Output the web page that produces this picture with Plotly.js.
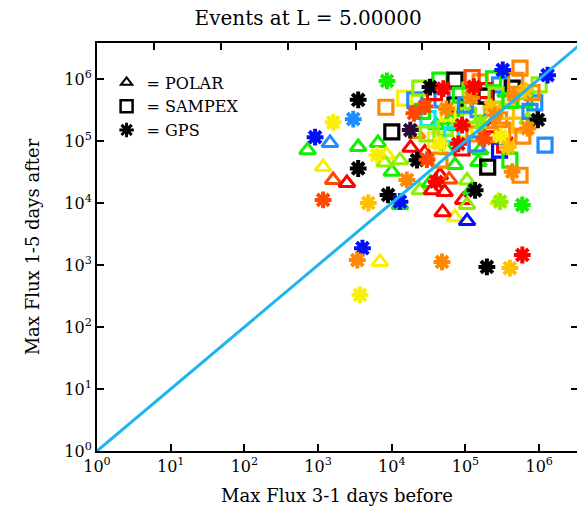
<!DOCTYPE html>
<html>
<head>
<meta charset="utf-8">
<script src="https://cdn.plot.ly/plotly-3.0.1.min.js"></script>
<style>html,body{margin:0;padding:0;background:#fff;}#chart{width:577px;height:515px;}</style>
</head>
<body>
<div id="chart"></div>
<script>
// ---- data ----
const decades = [1, 10, 100, 1e3, 1e4, 1e5, 1e6];
const decadeLabels = ['10<sup>0</sup>','10<sup>1</sup>','10<sup>2</sup>','10<sup>3</sup>','10<sup>4</sup>','10<sup>5</sup>','10<sup>6</sup>'];

const polarX = [7.2e2, 1.45e3, 1.17e3, 1.6e3, 2.46e3, 3.5e3, 6.5e3, 6.9e3, 1.29e4, 2.4e4, 7.2e4, 1.05e5, 9.3e4, 5.2e4, 1.05e5, 4.5e4, 7.2e4, 2.8e5, 1.58e5, 1.29e4, 1.0e4, 3.3e4, 1.8e4, 5.6e4, 4.9e4, 1.05e5, 3.5e4, 5.5e5, 6.2e4, 2.2e4, 8.5e3,
                4.0e4, 9.0e4, 2.2e5, 3.5e5, 7.0e5, 1.5e5, 2.8e4, 6.0e4, 1.2e5, 8.0e3];
const polarY = [7.1e4, 9.3e4, 3.8e4, 2.35e4, 2.1e4, 8.0e4, 9.3e4, 1.12e3, 9.3e3, 1.6e4, 5.9e3, 5.1e3, 1.12e4, 1.5e4, 2.3e4, 2.8e4, 4.1e4, 1.1e4, 7.1e4, 4.9e4, 3.2e4, 2.1e4, 7.8e4, 7.1e4, 7.1e3, 9.3e3, 1.6e4, 5.5e5, 2.2e5, 1.3e5, 6.0e4,
                1.8e5, 3.2e5, 1.6e5, 6.0e5, 2.2e5, 4.6e4, 6.5e4, 2.4e4, 1.6e4, 4.5e4];
const polarC = ['green','dodger','yellow','orangered','red','green','green','yellow','green','lime','yellow','blue','red','red','lime','red','green','yellow','green','lime','green','green','red','green','red','lime','red','lime','green','orange','yellow',
                'green','lime','red','green','lime','green','red','orangered','green','lime'];

const sampexX = [8.3e3, 1.5e4, 2.05e4, 3.1e4, 1.0e4, 4.8e4, 4.5e4, 7.2e4, 7.2e4, 2.0e5, 3.4e5, 2.9e5, 5.5e5, 8.7e5, 2.9e5, 4.3e5, 1.15e5, 1.58e5, 2.9e5, 1.48e5, 9.8e4, 2.1e5, 5.5e5, 1.0e6, 6.4e5, 3.9e4, 5.3e4, 9.0e4, 1.2e6, 1.23e5, 2.4e4, 4.0e5, 4.5e4, 5.5e5, 1.9e5, 7.2e4,
                 2.6e4, 3.8e4, 5.8e4, 8.5e4, 1.1e5, 1.3e5, 1.8e5, 2.4e5, 3.6e5, 4.8e5, 7.5e5, 8.0e5, 6.5e4, 1.0e5, 3.2e5, 2.6e5, 4.0e5, 6.0e5, 1.4e5, 3.0e4];
const sampexY = [3.5e5, 4.9e5, 4.6e5, 2.3e5, 1.4e5, 4.6e5, 9.6e5, 9.6e5, 3.8e5, 3.8e4, 8.6e4, 7.1e4, 2.8e4, 4.1e5, 8.0e5, 7.1e5, 6.6e5, 9.0e5, 2.2e5, 3.2e5, 1.5e5, 1.26e5, 1.8e5, 8.0e5, 4.6e5, 1.04e5, 1.6e5, 7.7e4, 8.6e4, 1.05e6, 7.1e5, 4.9e4, 4.9e4, 1.5e6, 5.3e5, 2.0e5,
                 3.0e5, 6.0e5, 2.8e5, 5.5e5, 2.6e5, 1.3e5, 6.5e5, 1.0e6, 3.0e5, 9.5e5, 3.0e5, 6.0e5, 1.25e5, 3.8e5, 1.5e5, 5.5e5, 4.5e5, 1.2e5, 9.0e4, 1.3e5];
const sampexC = ['orange','yellow','dodger','cyan','black','dodger','green','black','black','black','red','blue','orange','dodger','dodger','black','lime','orange','orange','dodger','yellow','orange','gold','lime','green','yellow','lime','red','dodger','orangered','lime','green','orange','orange','black','green',
                 'green','red','yellow','green','lime','orange','red','green','gold','orange','dodger','orange','cyan','dodger','orange','lime','green','orange','dodger','lime'];

const gpsX = [9.1e2, 1.6e3, 3.0e3, 3.5e3, 8.6e3, 3.3e4, 1.78e4, 3.5e3, 1.17e3, 4.8e3, 8.9e3, 1.29e4, 4.0e3, 3.4e3, 3.7e3, 4.8e4, 1.95e5, 4.0e5, 5.9e5, 2.95e5, 5.9e5, 1.35e5, 9.6e5, 3.2e5, 1.3e6, 4.3e5, 2.2e4, 6.3e3, 1.6e4, 5.0e4, 1.2e5, 2.2e5, 4.5e5, 8.0e4, 1.6e5, 3.0e4, 4.0e4, 3.0e5, 7.0e5, 2.0e4,
              5.5e4, 1.3e5, 2.5e5, 6.5e5, 9.0e4, 3.8e5, 1.8e5, 4.5e4, 2.8e4];
const gpsY = [1.15e5, 2.0e5, 2.25e5, 4.6e5, 9.3e5, 7.4e5, 1.5e5, 3.6e4, 1.12e4, 1.0e4, 1.35e4, 1.05e4, 1.87e3, 1.2e3, 3.3e2, 1.12e3, 9.3e2, 8.9e2, 1.45e3, 1.05e4, 9.3e3, 1.6e4, 2.2e5, 1.4e6, 1.15e6, 3.2e4, 4.9e4, 5.9e4, 2.35e4, 7.0e5, 5.0e5, 3.5e5, 5.5e5, 9.0e4, 2.0e5, 5.0e4, 2.2e4, 1.2e5, 1.6e5, 2.8e5,
              3.3e5, 7.5e5, 2.6e5, 6.5e5, 1.8e5, 8.0e4, 1.1e5, 9.0e4, 3.6e5];
const gpsC = ['blue','yellow','dodger','black','green','black','darkpurple','black','orangered','gold','black','blue','blue','orange','yellow','orange','black','gold','red','lime','green','black','black','blue','blue','orange','black','yellow','orange','red','orange','gold','orange','red','lime','orangered','red','yellow','orange','orangered',
              'orange','red','orange','gold','red','gold','orangered','yellow','orangered'];

const lineX = [1, 1e7];
const lineY = [1, 1e7];

const topTickPos = [0.119, 0.258, 0.398, 0.540, 0.677, 0.817];

// ---- styles ----
const palette = {
  black:'#000000', darkpurple:'#2a0a3a', blue:'#0010ff', dodger:'#1e8cff', cyan:'#00e8ff',
  green:'#10f000', lime:'#8ef000', yellow:'#f8f000', gold:'#ffc000', orange:'#ff8800',
  orangered:'#ff4800', red:'#ff0000'
};
const col = arr => arr.map(c => palette[c]);
const serif = 'DejaVu Serif, Liberation Serif, serif';

const traces = [
  {x: polarX, y: polarY, type:'scatter', mode:'markers', showlegend:false, hoverinfo:'skip',
   marker:{symbol:'triangle-up-open', size:14, color:col(polarC), line:{width:3}}},
  {x: sampexX, y: sampexY, type:'scatter', mode:'markers', showlegend:false, hoverinfo:'skip',
   marker:{symbol:'square-open', size:14, color:col(sampexC), line:{width:3.2}}},
  {x: gpsX, y: gpsY, type:'scatter', mode:'markers', showlegend:false, hoverinfo:'skip',
   marker:{symbol:'asterisk-open', size:14, color:col(gpsC), line:{width:4}}},
  {x: lineX, y: lineY, type:'scatter', mode:'lines', showlegend:false, hoverinfo:'skip',
   line:{color:'#1eb4f0', width:3}},
  // legend entries
  {x:[null], y:[null], type:'scatter', mode:'markers', name:'= POLAR',
   marker:{symbol:'triangle-up-open', size:10, color:'#000', line:{width:2}}},
  {x:[null], y:[null], type:'scatter', mode:'markers', name:'= SAMPEX',
   marker:{symbol:'square-open', size:12, color:'#000', line:{width:2.5}}},
  {x:[null], y:[null], type:'scatter', mode:'markers', name:'= GPS',
   marker:{symbol:'asterisk-open', size:12, color:'#000', line:{width:3}}},
  // carriers for the top and right tick axes
  {x:[null], y:[null], xaxis:'x2', yaxis:'y', type:'scatter', mode:'markers', showlegend:false, hoverinfo:'skip'},
  {x:[null], y:[null], xaxis:'x', yaxis:'y2', type:'scatter', mode:'markers', showlegend:false, hoverinfo:'skip'}
];

const layout = {
  width:577, height:515,
  margin:{l:97, r:0, t:43, b:64},
  paper_bgcolor:'#fff', plot_bgcolor:'#fff',
  font:{family:serif, color:'#000'},
  title:{text:'Events at L = 5.00000', font:{family:serif, size:20, color:'#000'},
         xref:'container', x:0.534, xanchor:'center', yref:'container', y:0.965, yanchor:'middle'},
  xaxis:{type:'log', range:[0, 6.513], tickvals:decades, ticktext:decadeLabels,
         ticks:'inside', ticklen:7, tickwidth:2, tickcolor:'#000',
         showline:true, linewidth:2, linecolor:'#000', mirror:false,
         showgrid:false, zeroline:false, tickfont:{family:serif, size:16},
         title:{text:'Max Flux 3-1 days before', font:{family:serif, size:18}, standoff:14}},
  yaxis:{type:'log', range:[0, 6.58], tickvals:decades, ticktext:decadeLabels,
         ticks:'inside', ticklen:7, tickwidth:2, tickcolor:'#000',
         showline:true, linewidth:2, linecolor:'#000', mirror:false,
         showgrid:false, zeroline:false, tickfont:{family:serif, size:16},
         title:{text:'Max Flux 1-5 days after', font:{family:serif, size:18}, standoff:20}},
  xaxis2:{overlaying:'x', side:'top', range:[0,1], tickvals:topTickPos, ticks:'inside',
          ticklen:7, tickwidth:2, tickcolor:'#000', showticklabels:false,
          showline:true, linewidth:2, linecolor:'#000', showgrid:false, zeroline:false},
  yaxis2:{overlaying:'y', side:'right', type:'log', range:[0, 6.58], tickvals:decades,
          ticks:'inside', ticklen:6, tickwidth:2, tickcolor:'#000', showticklabels:false,
          showline:false, showgrid:false, zeroline:false},
  showlegend:true,
  legend:{x:0.02, y:0.945, xanchor:'left', yanchor:'top', bgcolor:'rgba(0,0,0,0)',
          font:{family:serif, size:16, color:'#000'}, itemwidth:30, tracegroupgap:0}
};

Plotly.newPlot('chart', traces, layout, {staticPlot:true, displayModeBar:false});
</script>
</body>
</html>
